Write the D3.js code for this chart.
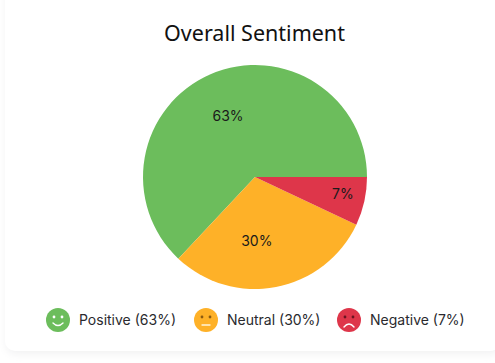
<!DOCTYPE html>
<html>
<head>
<meta charset="utf-8">
<script src="https://cdn.jsdelivr.net/npm/d3@7"></script>
<style>
  html, body { margin: 0; padding: 0; background: #ffffff; }
</style>
</head>
<body>
<div id="chart"></div>
<script>
/* Overall sentiment pie */

const categories = ["Positive", "Neutral", "Negative"];
const sentimentValues = [63, 30, 7];
const sliceColors = ["#6cbd5c", "#feb128", "#de364a"];

const width = 495, height = 363;
const pieCenter = {x: 255, y: 177};
const radius = 112;

const svg = d3.select("#chart").append("svg")
    .attr("width", width)
    .attr("height", height)
    .style("display", "block");

// soft shadow under the white card
const defs = svg.append("defs");
const blur = defs.append("filter")
    .attr("id", "cardShadow")
    .attr("x", "-5%").attr("y", "-5%")
    .attr("width", "110%").attr("height", "110%");
blur.append("feGaussianBlur").attr("stdDeviation", 4);

svg.append("rect")
    .attr("x", 6)
    .attr("y", -20)
    .attr("width", width)
    .attr("height", 374)
    .attr("rx", 10)
    .attr("fill", "#f1f1f2")
    .attr("filter", "url(#cardShadow)");

svg.append("rect")
    .attr("x", 5)
    .attr("y", -20)
    .attr("width", width)
    .attr("height", 371)
    .attr("rx", 10)
    .attr("fill", "#ffffff");

svg.append("text")
    .attr("x", 254.5)
    .attr("y", 41)
    .attr("text-anchor", "middle")
    .style("font-family", "'Noto Sans'")
    .style("font-size", "21.5px")
    .style("fill", "#111111")
    .text("Overall Sentiment");

// slices run counter clockwise from 3 o'clock
const pie = d3.pie()
    .sort(null)
    .startAngle(Math.PI / 2)
    .endAngle(Math.PI / 2 - 2 * Math.PI);

const arc = d3.arc().innerRadius(0).outerRadius(radius);

const pieG = svg.append("g")
    .attr("transform", "translate(" + pieCenter.x + "," + pieCenter.y + ")");

const arcs = pie(sentimentValues);

pieG.selectAll(".slice")
    .data(arcs)
    .enter()
    .append("path")
    .attr("class", "slice")
    .attr("d", arc)
    .attr("fill", (d, i) => sliceColors[i]);

// label spots: centroid of a scaled arc, then a small nudge
const labelRadius = [136, 126, 180];
const labelNudge = [[0, 2], [-10, 2], [0, -3]];

pieG.selectAll(".pct")
    .data(arcs)
    .enter()
    .append("text")
    .attr("class", "pct")
    .attr("transform", (d, i) => {
        const c = d3.arc().innerRadius(0).outerRadius(labelRadius[i]).centroid(d);
        return "translate(" + (c[0] + labelNudge[i][0]) + "," + (c[1] + labelNudge[i][1]) + ")";
    })
    .attr("text-anchor", "middle")
    .attr("dy", "0.35em")
    .style("font-family", "Inter")
    .style("font-size", "14px")
    .style("fill", "#1a1a1a")
    .text(d => d.value + "%");

// legend
const legendY = 320;
const iconX = [58, 206, 349];
const legend = svg.selectAll(".legend-item")
    .data(categories)
    .enter()
    .append("g")
    .attr("class", "legend-item")
    .attr("transform", (d, i) => "translate(" + iconX[i] + "," + legendY + ")");

legend.append("circle")
    .attr("r", 12)
    .attr("fill", (d, i) => sliceColors[i]);

legend.append("text")
    .attr("x", 21)
    .attr("dy", "0.35em")
    .style("font-family", "Inter")
    .style("font-size", "14px")
    .style("fill", "#2a2a2e")
    .text((d, i) => d + " (" + sentimentValues[i] + "%)");

// faces
const eyeInk = ["#ffffff", "#8a5a10", "#6b1420"];
const mouthInk = ["#ffffff", "#fff3d8", "#ffffff"];
const mouths = ["M-5,3 Q0,8 5,3", "M-4,5 L4,5", "M-5,7 Q0,1 5,7"];
legend.each(function(d, i) {
    const g = d3.select(this);
    [-4, 4].forEach(x => {
        g.append("circle").attr("cx", x).attr("cy", -3).attr("r", 1.4).attr("fill", eyeInk[i]);
    });
    g.append("path")
        .attr("d", mouths[i])
        .attr("fill", "none")
        .attr("stroke", mouthInk[i])
        .attr("stroke-width", 1.4)
        .attr("stroke-linecap", "round");
});
</script>
</body>
</html>
